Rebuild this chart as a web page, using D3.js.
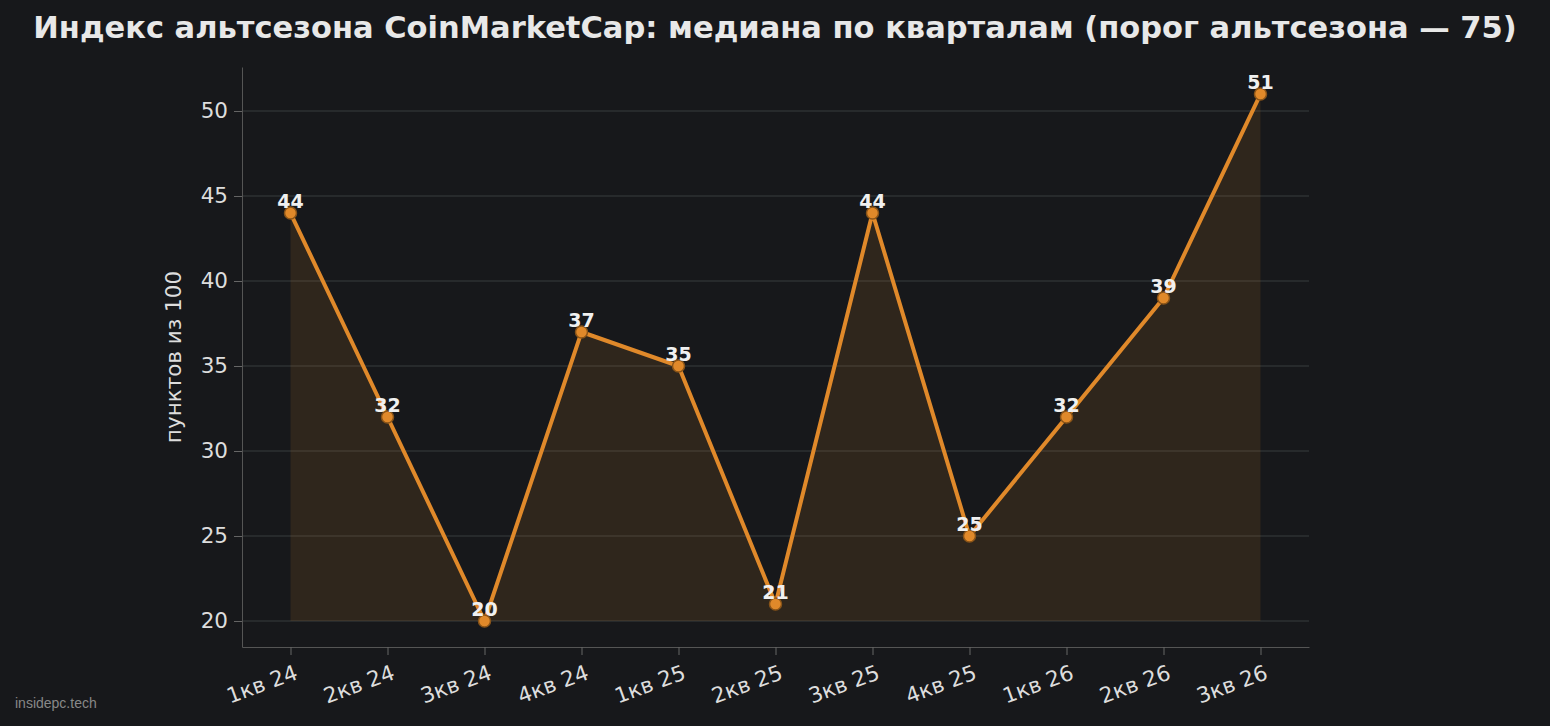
<!DOCTYPE html>
<html><head><meta charset="utf-8">
<script src="https://cdn.jsdelivr.net/npm/d3@7"></script>
<style>body{margin:0;background:#17181b}svg{display:block}</style>
</head><body><svg id="c" width="1550" height="726"></svg>
<script>
const categories=["1кв 24","2кв 24","3кв 24","4кв 24","1кв 25","2кв 25","3кв 25","4кв 25","1кв 26","2кв 26","3кв 26"];
const values=[44,32,20,37,35,21,44,25,32,39,51];
const yTicks=[20,25,30,35,40,45,50];
const svg=d3.select("#c");
const font="DejaVu Sans, sans-serif";
const x=d3.scaleLinear().domain([-0.5,categories.length-0.5]).range([242,1309]);
const y=d3.scaleLinear().domain([18.47,52.59]).range([647,67]);
svg.append("rect").attr("width",1550).attr("height",726).attr("fill","#17181b");
svg.append("text").attr("x",775).attr("y",38).attr("text-anchor","middle").attr("fill","#e8e8e8")
 .attr("font-family",font).attr("font-weight","bold").attr("font-size",30.5)
 .text("Индекс альтсезона CoinMarketCap: медиана по кварталам (порог альтсезона — 75)");
svg.append("g").selectAll("line").data(yTicks).join("line")
 .attr("x1",242).attr("x2",1309).attr("y1",d=>y(d)).attr("y2",d=>y(d)).attr("stroke","#2e3033").attr("stroke-width",1.5);
const area=d3.area().x((d,i)=>x(i)).y0(y(20)).y1(d=>y(d));
svg.append("path").datum(values).attr("d",area).attr("fill","#e0892a").attr("fill-opacity",0.12);
svg.append("path").datum(values).attr("d",d3.line().x((d,i)=>x(i)).y(d=>y(d)))
 .attr("fill","none").attr("stroke","#e0892a").attr("stroke-width",4).attr("stroke-linejoin","round");
svg.append("g").selectAll("circle").data(values).join("circle").attr("cx",(d,i)=>x(i)).attr("cy",d=>y(d)).attr("r",6)
 .attr("fill","#e0892a").attr("stroke","#8a5418").attr("stroke-width",1.5);
svg.append("g").selectAll("text").data(values).join("text").attr("x",(d,i)=>x(i)).attr("y",d=>y(d)-5)
 .attr("text-anchor","middle").attr("fill","#f0f0f0").attr("font-family",font).attr("font-weight","bold").attr("font-size",19).text(d=>d);
const ya=svg.append("g").attr("transform","translate(242,0)").call(d3.axisLeft(y).tickValues(yTicks).tickSize(8).tickSizeOuter(0).tickPadding(6));
const xa=svg.append("g").attr("transform","translate(0,647)").call(d3.axisBottom(x).tickValues(d3.range(categories.length)).tickFormat(i=>categories[i]).tickSize(8).tickSizeOuter(0).tickPadding(6));
[ya,xa].forEach(a=>{a.select(".domain").attr("stroke","#555");a.selectAll(".tick line").attr("stroke","#666");
 a.selectAll("text").attr("fill","#dddddd").attr("font-family",font).attr("font-size",21.5);});
xa.selectAll("text").attr("text-anchor","end").attr("transform","translate(-2,4) rotate(-20)");
svg.append("text").attr("transform","translate(181,357) rotate(-90)").attr("text-anchor","middle").attr("fill","#dddddd")
 .attr("font-family",font).attr("font-size",21.5).text("пунктов из 100");
svg.append("text").attr("x",15).attr("y",708).attr("fill","#888").attr("font-family","Liberation Sans, sans-serif").attr("font-size",14).text("insidepc.tech");
</script></body></html>
